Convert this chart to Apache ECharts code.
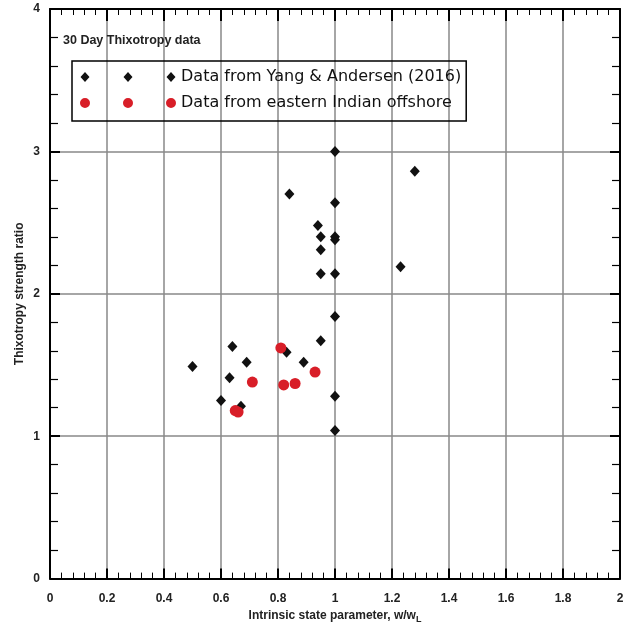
<!DOCTYPE html>
<html>
<head>
<meta charset="utf-8">
<script src="https://cdn.jsdelivr.net/npm/echarts@6/dist/echarts.min.js"></script>
<style>
  html, body { margin: 0; padding: 0; background: #fff; }
  #chart { width: 627px; height: 629px; }
</style>
</head>
<body>
<div id="chart"></div>
<script>
// Yang & Andersen (2016)  [w/wL, ratio]
const yangData = [
  [0.50, 1.49], [0.60, 1.25], [0.63, 1.41], [0.64, 1.63], [0.67, 1.21],
  [0.69, 1.52], [0.84, 2.70], [0.83, 1.59], [0.89, 1.52], [0.95, 1.67],
  [0.94, 2.48], [0.95, 2.40], [0.95, 2.31], [0.95, 2.14], [1.00, 3.00],
  [1.00, 2.64], [1.00, 2.40], [1.00, 2.38], [1.00, 2.14], [1.00, 1.84],
  [1.00, 1.28], [1.00, 1.04], [1.23, 2.19], [1.28, 2.86]
];
// eastern Indian offshore
const indiaData = [
  [0.65, 1.18], [0.66, 1.17], [0.71, 1.38], [0.81, 1.62], [0.82, 1.36],
  [0.86, 1.37], [0.93, 1.45]
];
const seriesNames = ['Data from Yang & Andersen (2016)', 'Data from eastern Indian offshore'];

const chart = echarts.init(document.getElementById('chart'));

const txt = '#222';
const font = 'Liberation Sans';

// three marks per legend row, like the original figure
const diamonds3 = 'path://M5,0L9.5,5L5,10L0.5,5Z M48,0L52.5,5L48,10L43.5,5Z M91,0L95.5,5L91,10L86.5,5Z';
const circles3 = 'path://M0,5A5,5 0 1,0 10,5A5,5 0 1,0 0,5Z M43,5A5,5 0 1,0 53,5A5,5 0 1,0 43,5Z M86,5A5,5 0 1,0 96,5A5,5 0 1,0 86,5Z';

function xAx(pos, showLabel) {
  return {
    type: 'value', position: pos, min: 0, max: 2, interval: 0.2,
    name: showLabel ? 'Intrinsic state parameter, w/w{sub|L}' : '',
    nameLocation: 'middle', nameGap: 27,
    nameTextStyle: {
      color: txt, fontFamily: font, fontWeight: 'bold', fontSize: 12,
      rich: { sub: { fontSize: 9, fontWeight: 'bold', color: txt, fontFamily: font, verticalAlign: 'bottom', padding: [8, 0, 0, 0] } }
    },
    axisLine: { show: true, onZero: false, lineStyle: { color: '#000', width: 2 } },
    axisTick: { show: true, inside: true, length: pos === 'top' ? 12 : 10, lineStyle: { color: '#000', width: 2 } },
    minorTick: { show: true, splitNumber: 5, length: 6, lineStyle: { color: '#000', width: 1 } },
    axisLabel: {
      show: showLabel, color: txt, fontFamily: font, fontWeight: 'bold', fontSize: 12, margin: 14,
      formatter: v => String(Math.round(v * 10) / 10)
    },
    splitLine: { show: showLabel, lineStyle: { color: '#888', width: 1.5 } }
  };
}

function yAx(pos, showLabel) {
  return {
    type: 'value', position: pos, min: 0, max: 4, interval: 1,
    name: showLabel ? 'Thixotropy strength ratio' : '',
    nameLocation: 'middle', nameGap: 24, nameRotate: 90, nameMoveOverlap: false,
    nameTextStyle: { color: txt, fontFamily: font, fontWeight: 'bold', fontSize: 12 },
    axisLine: { show: true, onZero: false, lineStyle: { color: '#000', width: 2 } },
    axisTick: { show: true, inside: true, length: 10, lineStyle: { color: '#000', width: 2 } },
    minorTick: { show: true, splitNumber: 5, length: 8, lineStyle: { color: '#000', width: 1.2 } },
    axisLabel: { show: showLabel, color: txt, fontFamily: font, fontWeight: 'bold', fontSize: 12, margin: 10 },
    splitLine: { show: showLabel, lineStyle: { color: '#888', width: 1.5 } }
  };
}

const option = {
  backgroundColor: '#fff',
  animation: false,
  grid: { left: 50, right: 7, top: 9, bottom: 50 },
  title: {
    text: '30 Day Thixotropy data', left: 58, top: 29,
    textStyle: { color: txt, fontFamily: font, fontWeight: 'bold', fontSize: 12.5 }
  },
  legend: {
    orient: 'vertical', left: 72, top: 61,
    borderColor: '#000', borderWidth: 1.5, padding: [8, 5, 10, 8],
    itemWidth: 96, itemHeight: 10, itemGap: 10,
    textStyle: { color: '#111', fontFamily: 'DejaVu Sans', fontSize: 16 },
    data: [
      { name: seriesNames[0], icon: diamonds3 },
      { name: seriesNames[1], icon: circles3 }
    ]
  },
  xAxis: [xAx('bottom', true), xAx('top', false)],
  yAxis: [yAx('left', true), yAx('right', false)],
  series: [
    {
      name: seriesNames[0], type: 'scatter', data: yangData,
      symbol: 'diamond', symbolSize: [10, 11],
      itemStyle: { color: '#111', opacity: 1 }, z: 3
    },
    {
      name: seriesNames[1], type: 'scatter', data: indiaData,
      symbol: 'circle', symbolSize: 11,
      itemStyle: { color: '#d81e28', opacity: 1 }, z: 4
    }
  ]
};

chart.setOption(option);
</script>
</body>
</html>
